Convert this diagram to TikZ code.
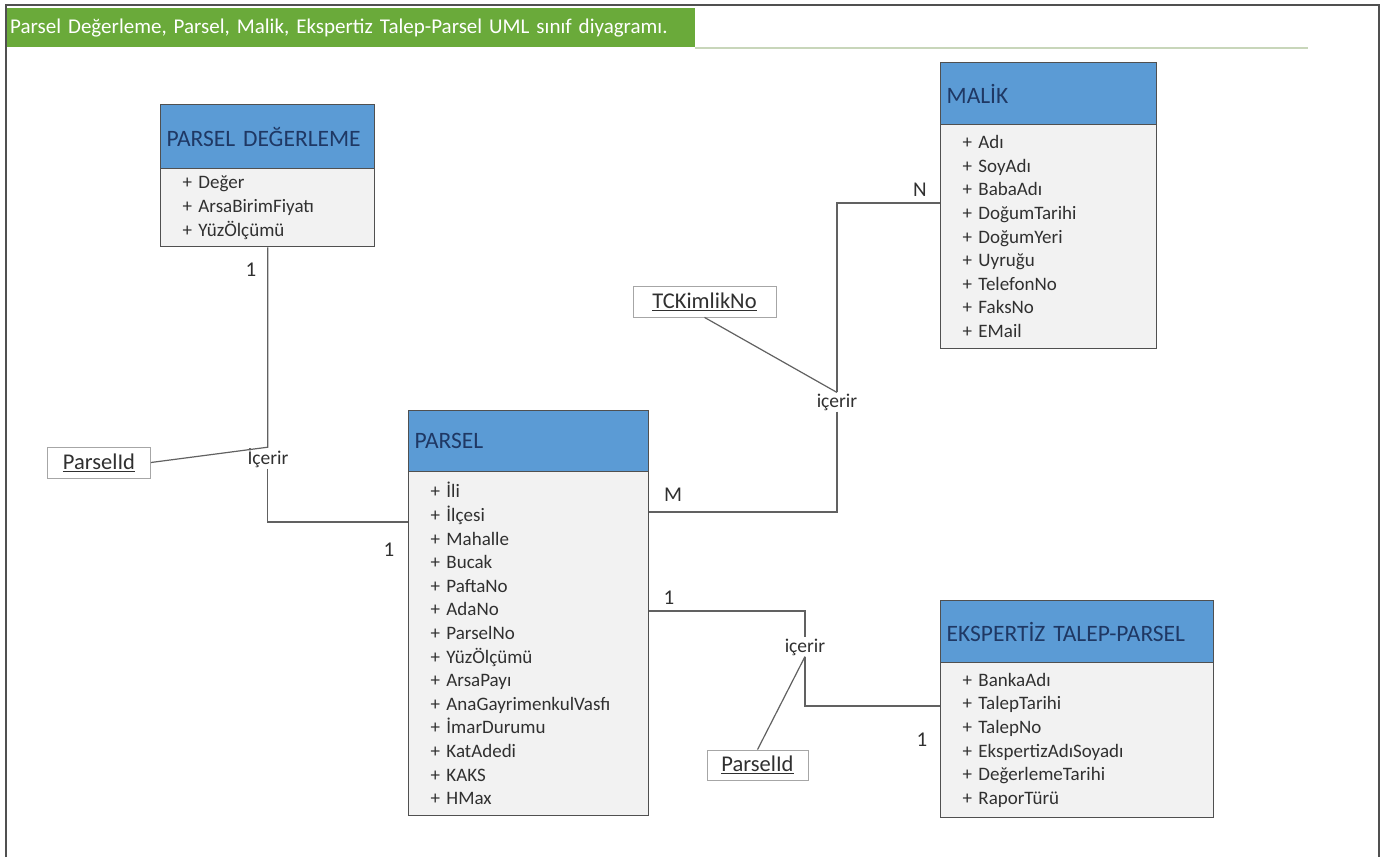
\documentclass[tikz,border=0pt]{standalone}
\usepackage{fontspec}
\setmainfont{Carlito}
\definecolor{hdrblue}{HTML}{5B9BD5}
\definecolor{navy}{HTML}{1F3864}
\definecolor{bodygray}{HTML}{F2F2F2}
\definecolor{boxline}{HTML}{505050}
\definecolor{banner}{HTML}{6AAA3A}
\definecolor{txt}{HTML}{303030}
\begin{document}
\begin{tikzpicture}[x=1pt,y=-1pt,
  hdr/.style={draw=boxline, fill=hdrblue, text=navy, line width=1.3pt,
    font=\fontsize{23.5}{26}\selectfont, anchor=north west, inner xsep=6pt, inner ysep=0pt, align=left},
  bod/.style={draw=boxline, fill=bodygray, text=txt, line width=1.3pt,
    font=\fontsize{19}{23.6}\selectfont, anchor=north west, inner xsep=22pt, inner ysep=0pt, align=left},
  lbl/.style={text=txt, font=\fontsize{19.5}{22}\selectfont, inner sep=1pt},
  mult/.style={text=txt, font=\fontsize{21}{24}\selectfont, inner sep=1pt},
  keybox/.style={draw=gray!70, line width=0.8pt, fill=white, text=txt,
    font=\fontsize{22.5}{25}\selectfont, inner sep=0pt},
  conn/.style={draw=boxline!90, line width=1.2pt}]
\useasboundingbox (0,0) rectangle (1381,857);
\fill[white] (0,0) rectangle (1381,857);
% frame
\draw[boxline, line width=1.5pt] (6,857) -- (6,5) -- (1379,5) -- (1379,857);
% banner
\node[fill=banner, anchor=north west, minimum width=688pt, minimum height=39pt, inner xsep=3pt,
  text=white, font=\fontsize{21}{24}\selectfont, text width=682pt, align=left] (title) at (7,8)
  {Parsel Değerleme, Parsel, Malik, Ekspertiz Talep-Parsel UML sınıf diyagramı.};
\draw[draw={rgb,255:red,200;green,214;blue,186}, line width=2pt] (title.south east) ++(0,-1pt) -- ++(613,0) coordinate (gl);

% PARSEL DEĞERLEME
\node[hdr, text width=202pt, minimum height=64pt] (pdh) at (160,104) {PARSEL DEĞERLEME};
\node[bod, text width=170pt, minimum height=78pt] (pdb) at (160,168)
  {+ Değer\\+ ArsaBirimFiyatı\\+ YüzÖlçümü};

% MALİK
\node[hdr, text width=204pt, minimum height=62pt] (mh) at (940,62) {MALİK};
\node[bod, text width=172pt, minimum height=224pt] (mb) at (940,124)
  {+ Adı\\+ SoyAdı\\+ BabaAdı\\+ DoğumTarihi\\+ DoğumYeri\\+ Uyruğu\\+ TelefonNo\\+ FaksNo\\+ EMail};

% PARSEL
\node[hdr, text width=228pt, minimum height=61pt] (ph) at (408,410) {PARSEL};
\node[bod, text width=196pt, minimum height=344pt] (pb) at (408,471)
  {+ İli\\+ İlçesi\\+ Mahalle\\+ Bucak\\+ PaftaNo\\+ AdaNo\\+ ParselNo\\+ YüzÖlçümü\\+ ArsaPayı\\+ AnaGayrimenkulVasfı\\+ İmarDurumu\\+ KatAdedi\\+ KAKS\\+ HMax};

% EKSPERTİZ TALEP-PARSEL
\node[hdr, text width=261pt, minimum height=62pt] (eh) at (940,600) {EKSPERTİZ TALEP-PARSEL};
\node[bod, text width=229pt, minimum height=155pt] (eb) at (940,662)
  {+ BankaAdı\\+ TalepTarihi\\+ TalepNo\\+ EkspertizAdıSoyadı\\+ DeğerlemeTarihi\\+ RaporTürü};

% key boxes
\node[keybox, minimum width=103pt, minimum height=31pt] (pid1) at (99,462.5) {\underline{ParselId}};
\node[keybox, minimum width=143pt, minimum height=31pt] (tck) at (704.5,301.5) {\underline{TCKimlikNo}};
\node[keybox, minimum width=101pt, minimum height=30pt] (pid2) at (757.5,765) {\underline{ParselId}};

% relation labels
\node[lbl] (icA) at (268,458) {İçerir};
\node[lbl] (icB) at (837,402) {içerir};
\node[lbl] (icC) at (805,647) {içerir};

% connectors
\draw[conn] (pdb.south) -- (pdb.south |- icA.north) -- (pid1.east);
\draw[conn] (icA.south -| pdb.south) |- ([yshift=-51pt]pb.north west);
\draw[conn] ([yshift=-79pt]mb.north west) -| (icB.north);
\draw[conn] (icB.south) |- ([yshift=-41pt]pb.north east);
\draw[conn] (tck.south) -- (icB.north);
\draw[conn] ([yshift=-140pt]pb.north east) -| (icC.north);
\draw[conn] (icC.south) |- ([yshift=-44pt]eb.north west);
\draw[conn] (pid2.north) -- (icC.south);

% multiplicities
\node[mult] (m1) at (251,270) {1};
\node[mult] (m2) at (389,550) {1};
\node[mult] (m3) at (920,190) {N};
\node[mult] (m4) at (673,495) {M};
\node[mult] (m5) at (669,598) {1};
\node[mult] (m6) at (922,740) {1};
\end{tikzpicture}
\end{document}
